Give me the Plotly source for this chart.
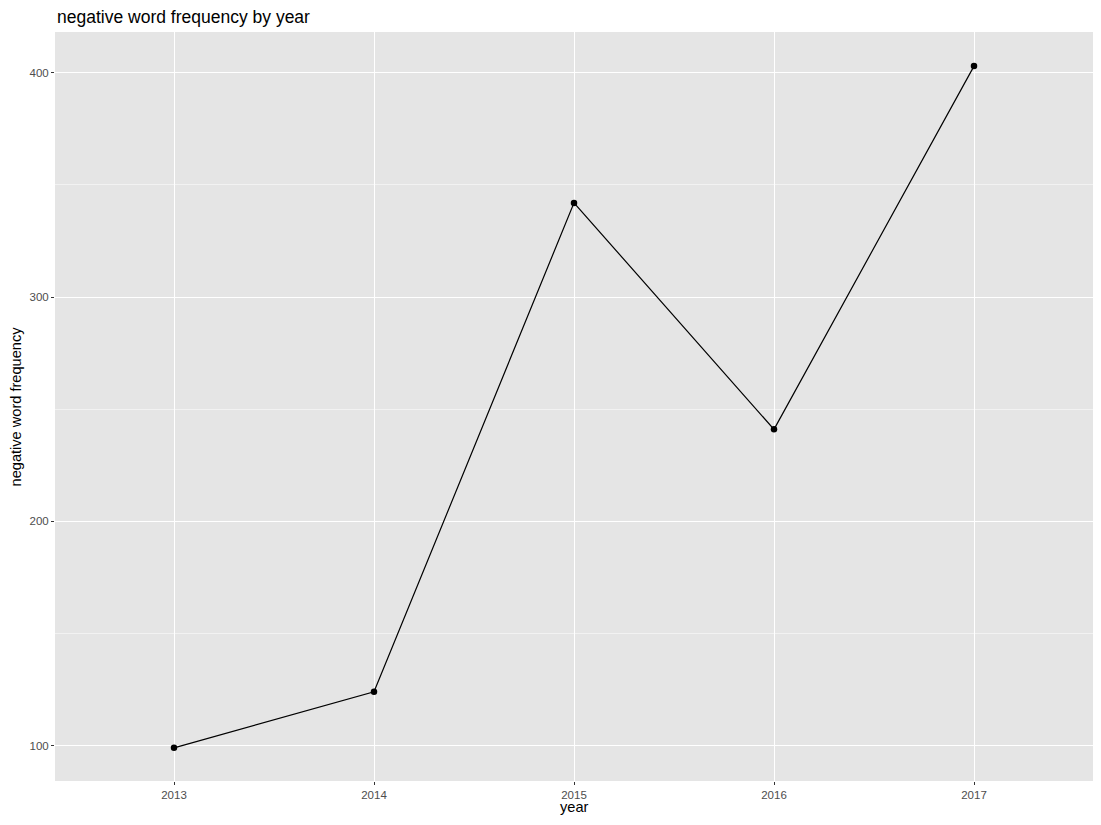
import plotly.graph_objects as go

years = [2013, 2014, 2015, 2016, 2017]
neg_freq = [99, 124, 342, 241, 403]
y_ticks = [100, 200, 300, 400]
y_minor = [150, 250, 350]

# page body has an 8px margin, so the figure is a bit smaller than the window
fig = go.Figure()
fig.add_trace(go.Scatter(
    x=years,
    y=neg_freq,
    mode="lines+markers",
    line=dict(color="black", width=1.2),
    marker=dict(color="black", size=6.5),
    showlegend=False,
))

fig.update_layout(
    width=1085,
    height=809,
    margin=dict(l=47, r=0, t=24, b=36),
    paper_bgcolor="white",
    plot_bgcolor="#E5E5E5",
    font=dict(family="Liberation Sans, Arial, sans-serif", color="black"),
)

fig.add_annotation(
    text="negative word frequency by year",
    xref="paper", yref="paper", x=0, y=1.020,
    xanchor="left", yanchor="middle", showarrow=False,
    font=dict(size=17.5, color="black"),
)
fig.add_annotation(
    text="negative word frequency",
    xref="paper", yref="paper", x=-0.0376, y=0.5,
    xanchor="center", yanchor="middle", textangle=-90, showarrow=False,
    font=dict(size=14.6, color="black"),
)
fig.add_annotation(
    text="year",
    xref="paper", yref="paper", x=0.5, y=-0.0345,
    xanchor="center", yanchor="middle", showarrow=False,
    borderpad=0,
    font=dict(size=14.6, color="black"),
)

fig.update_xaxes(
    range=[2012.405, 2017.595],
    tickvals=years,
    ticktext=[str(y) for y in years],
    showgrid=True, gridcolor="white", gridwidth=1.2,
    zeroline=False, automargin=False,
    ticks="outside", ticklen=3, tickcolor="#333333", tickwidth=1,
    tickfont=dict(size=11.5, color="#4D4D4D"),
)
fig.update_yaxes(
    range=[84.2, 418.2],
    tickvals=y_ticks,
    showgrid=True, gridcolor="white", gridwidth=1.2,
    minor=dict(tickvals=y_minor, showgrid=True, gridcolor="#F2F2F2", gridwidth=0.6),
    zeroline=False, automargin=False,
    ticks="outside", ticklen=3, tickcolor="#333333", tickwidth=1,
    tickfont=dict(size=11.5, color="#4D4D4D"),
)

fig.write_html("out.html")
